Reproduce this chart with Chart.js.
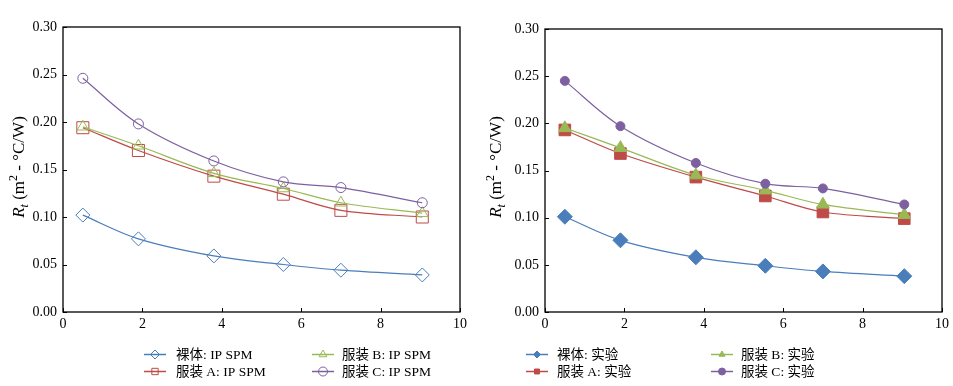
<!DOCTYPE html>
<html lang="zh">
<head>
<meta charset="UTF-8">
<title>Rt chart</title>
<script src="https://cdn.jsdelivr.net/npm/chart.js@4.4.0/dist/chart.umd.min.js"></script>
<style>
  body { margin: 0; background: #fff; }
  .box { position: absolute; top: 0; height: 386px; }
</style>
</head>
<body>
<div class="box" style="left:0;width:476px;"><canvas id="left"></canvas></div>
<div class="box" style="left:476px;width:477px;"><canvas id="right"></canvas></div>
<script>
// wind speed (x) shared by all series
const xValues = [0.5, 1.9, 3.8, 5.55, 7.0, 9.05];

// left: IP SPM
const spmNude = [0.102, 0.077, 0.059, 0.050, 0.044, 0.039];
const spmA    = [0.194, 0.170, 0.143, 0.124, 0.107, 0.100];
const spmB    = [0.195, 0.175, 0.146, 0.130, 0.115, 0.104];
const spmC    = [0.246, 0.198, 0.159, 0.137, 0.131, 0.115];

// right: experiment
const expNude = [0.101, 0.076, 0.058, 0.049, 0.043, 0.038];
const expA    = [0.193, 0.168, 0.143, 0.123, 0.106, 0.099];
const expB    = [0.195, 0.174, 0.145, 0.129, 0.114, 0.103];
const expC    = [0.245, 0.197, 0.158, 0.136, 0.131, 0.114];

const xTicks = [0, 2, 4, 6, 8, 10];
const yTicks = [0, 0.05, 0.10, 0.15, 0.20, 0.25, 0.30];

const leftLabels  = ['裸体: IP SPM', '服装 A: IP SPM', '服装 B: IP SPM', '服装 C: IP SPM'];
const rightLabels = ['裸体: 实验', '服装 A: 实验', '服装 B: 实验', '服装 C: 实验'];

const colors = ['#4a7ebb', '#be4b48', '#98b954', '#7d60a0'];
const styles = ['rectRot', 'rect', 'triangle', 'circle'];
const serif = '"Liberation Serif", "Times New Roman", "Noto Sans CJK SC", serif';

function pts(ys) { return ys.map((y, i) => ({ x: xValues[i], y: y })); }

function makeSets(series, labels, filled, radii) {
  return series.map((ys, i) => ({
    label: labels[i],
    data: pts(ys),
    borderColor: colors[i],
    backgroundColor: filled ? colors[i] : '#ffffff',
    pointBorderColor: colors[i],
    pointBackgroundColor: filled ? colors[i] : 'rgba(255,255,255,0)',
    pointStyle: styles[i],
    pointRadius: radii[i],
    pointBorderWidth: 1,
    borderWidth: 1.2,
    tension: 0.35,
    order: 4 - i
  }));
}

// frame, inward ticks, y title and two-column legend
const decor = {
  id: 'decor',
  afterDraw(chart, args, opts) {
    const ctx = chart.ctx, a = chart.chartArea;
    const xs = chart.scales.x, ys = chart.scales.y;
    ctx.save();
    ctx.strokeStyle = '#000';
    ctx.lineWidth = 1.3;
    ctx.strokeRect(a.left, a.top, a.right - a.left, a.bottom - a.top);
    ctx.lineWidth = 1;
    ctx.beginPath();
    xTicks.forEach(v => {
      const px = Math.round(xs.getPixelForValue(v)) + 0.5;
      ctx.moveTo(px, a.bottom); ctx.lineTo(px, a.bottom - 4);
    });
    yTicks.forEach(v => {
      const py = Math.round(ys.getPixelForValue(v)) + 0.5;
      ctx.moveTo(a.left, py); ctx.lineTo(a.left + 4, py);
    });
    ctx.stroke();

    // axis title: R_t (m²·°C/W)
    ctx.translate(opts.titleX, 167);
    ctx.rotate(-Math.PI / 2);
    ctx.fillStyle = '#000';
    ctx.textBaseline = 'alphabetic';
    const parts = [
      ['italic 17px ' + serif, 'R', 0],
      ['italic 12px ' + serif, 't', 4],
      ['17px ' + serif, ' (m', 0],
      ['12px ' + serif, '2', -7],
      ['17px ' + serif, ' - °C/W)', 0]
    ];
    let total = 0;
    parts.forEach(p => { ctx.font = p[0]; total += ctx.measureText(p[1]).width; });
    let cx = -total / 2;
    parts.forEach(p => {
      ctx.font = p[0];
      ctx.fillText(p[1], cx, 6 + p[2]);
      cx += ctx.measureText(p[1]).width;
    });
    ctx.setTransform(1, 0, 0, 1, 0, 0);

    // legend
    const rows = [354, 371];
    chart.data.datasets.forEach((ds, i) => {
      const col = i < 2 ? 0 : 1;
      const y = rows[i % 2];
      const cxm = opts.cols[col], tx = opts.texts[col];
      ctx.strokeStyle = ds.borderColor;
      ctx.lineWidth = 1.5;
      ctx.beginPath();
      ctx.moveTo(cxm - 11, y + 0.5); ctx.lineTo(cxm + 11, y + 0.5);
      ctx.stroke();
      ctx.fillStyle = ds.pointBackgroundColor;
      ctx.lineWidth = 1;
      Chart.helpers.drawPoint(ctx, { pointStyle: ds.pointStyle, radius: opts.legendRadius, rotation: 0, borderWidth: 1 }, cxm, y + 0.5);
      ctx.fillStyle = '#000';
      ctx.font = '13.5px ' + serif;
      ctx.textBaseline = 'middle';
      ctx.fillText(ds.label, tx, y + 1);
    });
    ctx.restore();
  }
};

function build(id, series, labels, filled, radii, geo) {
  new Chart(document.getElementById(id), {
    type: 'line',
    data: { datasets: makeSets(series, labels, filled, radii) },
    plugins: [decor],
    options: {
      responsive: true,
      maintainAspectRatio: false,
      animation: false,
      layout: { padding: { left: 0, right: geo.padRight, top: geo.padTop, bottom: 54 } },
      plugins: {
        legend: { display: false },
        tooltip: { enabled: false },
        decor: geo.decor
      },
      scales: {
        x: {
          type: 'linear', min: 0, max: 10,
          afterBuildTicks: s => { s.ticks = xTicks.map(v => ({ value: v })); },
          afterFit: s => { s.height = 20; },
          grid: { display: false, drawTicks: false },
          border: { display: false },
          ticks: { color: '#000', padding: 4, font: { family: serif, size: 14 } }
        },
        y: {
          min: 0, max: 0.3,
          afterBuildTicks: s => { s.ticks = yTicks.map(v => ({ value: v })); },
          afterFit: s => { s.width = geo.yWidth; },
          grid: { display: false, drawTicks: false },
          border: { display: false },
          ticks: { color: '#000', padding: 6, font: { family: serif, size: 14 },
                   callback: v => v.toFixed(2) }
        }
      }
    }
  });
}

build('left', [spmNude, spmA, spmB, spmC], leftLabels, false, [7, 8.5, 6.5, 5], {
  padRight: 16, padTop: 27, yWidth: 63,
  decor: { titleX: 18, cols: [155, 323], texts: [176, 342], legendRadius: 4.5 }
});
build('right', [expNude, expA, expB, expC], rightLabels, true, [7.5, 8.2, 7.2, 4.5], {
  padRight: 11, padTop: 29, yWidth: 69,
  decor: { titleX: 19, cols: [61, 246], texts: [81, 265], legendRadius: 3.5 }
});
</script>
</body>
</html>
